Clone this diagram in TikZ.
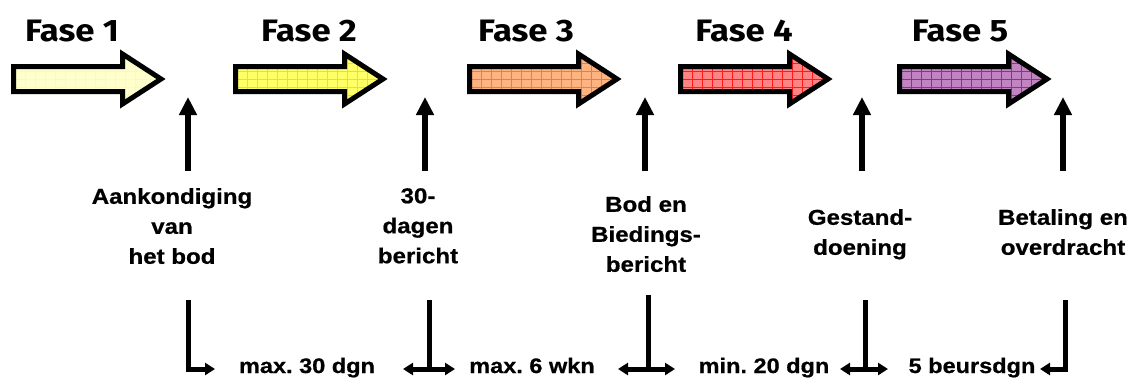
\documentclass[tikz,border=0pt]{standalone}
\usepackage{fontspec}
\usetikzlibrary{arrows.meta}
\frenchspacing
\newfontfamily\labfont{Liberation Sans}[FakeStretch=1.12,FakeBold=0.7]
\newfontfamily\fasefont{Fira Sans}[FakeStretch=1.12]
\definecolor{f1fill}{HTML}{FFFFCC}\definecolor{f1grid}{HTML}{FFFF99}
\definecolor{f2fill}{HTML}{FFFF66}\definecolor{f2grid}{HTML}{E8E800}
\definecolor{f3fill}{HTML}{FFB380}\definecolor{f3grid}{HTML}{FF7A1A}
\definecolor{f4fill}{HTML}{FF8585}\definecolor{f4grid}{HTML}{FF1A1A}
\definecolor{f5fill}{HTML}{C283C2}\definecolor{f5grid}{HTML}{922E92}
\begin{document}
\begin{tikzpicture}[x=1pt,y=-1pt,
  fasetext/.style={font=\fasefont\bfseries\fontsize{31}{34}\selectfont, anchor=base, inner sep=0pt},
  labtext/.style={font=\labfont\bfseries\fontsize{21.5}{30}\selectfont\frenchspacing, align=center, anchor=north, inner sep=0pt},
  bottext/.style={font=\labfont\bfseries\fontsize{21}{24}\selectfont\frenchspacing, anchor=base, inner sep=0pt},
  uparrow/.style={line width=6pt, -{Triangle[width=17pt,length=18pt]}},
  botline/.style={line width=5pt, line join=miter},
  botdouble/.style={line width=5pt, {Triangle[width=12pt,length=10pt]}-{Triangle[width=12pt,length=10pt]}},
  outline/.style={line width=5pt, line join=miter, draw=black}
]
\useasboundingbox (0,0) rectangle (1134,378);

% block arrows
\foreach \L/\fc/\gc in {11/f1fill/f1grid, 233/f2fill/f2grid, 467/f3fill/f3grid, 678/f4fill/f4grid, 897/f5fill/f5grid}{
  \begin{scope}
    \clip (\L+2.5,66.5) -- (\L+111.5,66.5) -- (\L+111.5,54) -- (\L+150,79) -- (\L+111.5,104) -- (\L+111.5,91.5) -- (\L+2.5,91.5) -- cycle;
    \fill[\fc] (\L,40) rectangle (\L+160,115);
    \foreach \k in {0,...,15}{\draw[\gc, line width=0.8pt] (\L+4+10*\k,45) -- (\L+4+10*\k,112);}
    \foreach \yy in {55,63,71,79,87,95,103}{\draw[\gc, line width=0.8pt] (\L,\yy) -- (\L+160,\yy);}
  \end{scope}
  \draw[outline] (\L+2.5,66.5) -- (\L+111.5,66.5) -- (\L+111.5,54) -- (\L+150,79) -- (\L+111.5,104) -- (\L+111.5,91.5) -- (\L+2.5,91.5) -- cycle;
}

% phase titles
\node[fasetext] (fase1) at (72,41) {Fase 1};
\node[fasetext] (fase2) at (309,41) {Fase 2};
\node[fasetext] (fase3) at (526,41) {Fase 3};
\node[fasetext] (fase4) at (744,41) {Fase 4};
\node[fasetext] (fase5) at (960,41) {Fase 5};

% event labels
\node[labtext] (l1) at (172,188) {Aankondiging\\van\\het bod};
\node[labtext] (l2) at (418,188) {30-\\dagen\\bericht};
\node[labtext] (l3) at (646,196) {Bod en\\Biedings-\\bericht};
\node[labtext] (l4) at (860,209) {Gestand-\\doening};
\node[labtext] (l5) at (1063,209) {Betaling en\\overdracht};

% up arrows
\foreach \i/\x in {1/188, 2/425, 3/645, 4/862, 5/1063}{
  \coordinate (u\i b) at (\x,171);
  \coordinate (u\i t) at (\x,97);
  \draw[uparrow] (u\i b) -- (u\i t);
}

% bottom brackets
\coordinate (b1t) at (188,300); \coordinate (b1c) at (188,369); \coordinate (b1r) at (215,369);
\draw[botline, -{Triangle[width=12pt,length=10pt]}] (b1t) -- (b1c) -- (b1r);

\coordinate (b2t) at (429,300); \coordinate (b2c) at (429,369);
\coordinate (b2l) at (403,369); \coordinate (b2r) at (455,369);
\draw[botline] (b2t) -- (b2c);
\draw[botdouble] (b2l) -- (b2r);

\coordinate (b3t) at (648,295); \coordinate (b3c) at (648,369);
\coordinate (b3l) at (618,369); \coordinate (b3r) at (675,369);
\draw[botline] (b3t) -- (b3c);
\draw[botdouble] (b3l) -- (b3r);

\coordinate (b4t) at (865,300); \coordinate (b4c) at (865,369);
\coordinate (b4l) at (840,369); \coordinate (b4r) at (888,369);
\draw[botline] (b4t) -- (b4c);
\draw[botdouble] (b4l) -- (b4r);

\coordinate (b5t) at (1065,300); \coordinate (b5c) at (1065,369); \coordinate (b5l) at (1040,369);
\draw[botline, -{Triangle[width=12pt,length=10pt]}] (b5t) -- (b5c) -- (b5l);

% durations
\node[bottext] (d1) at (307,373) {max. 30 dgn};
\node[bottext] (d2) at (532,373) {max. 6 wkn};
\node[bottext] (d3) at (764,373) {min. 20 dgn};
\node[bottext] (d4) at (972,373) {5 beursdgn};
\end{tikzpicture}
\end{document}
